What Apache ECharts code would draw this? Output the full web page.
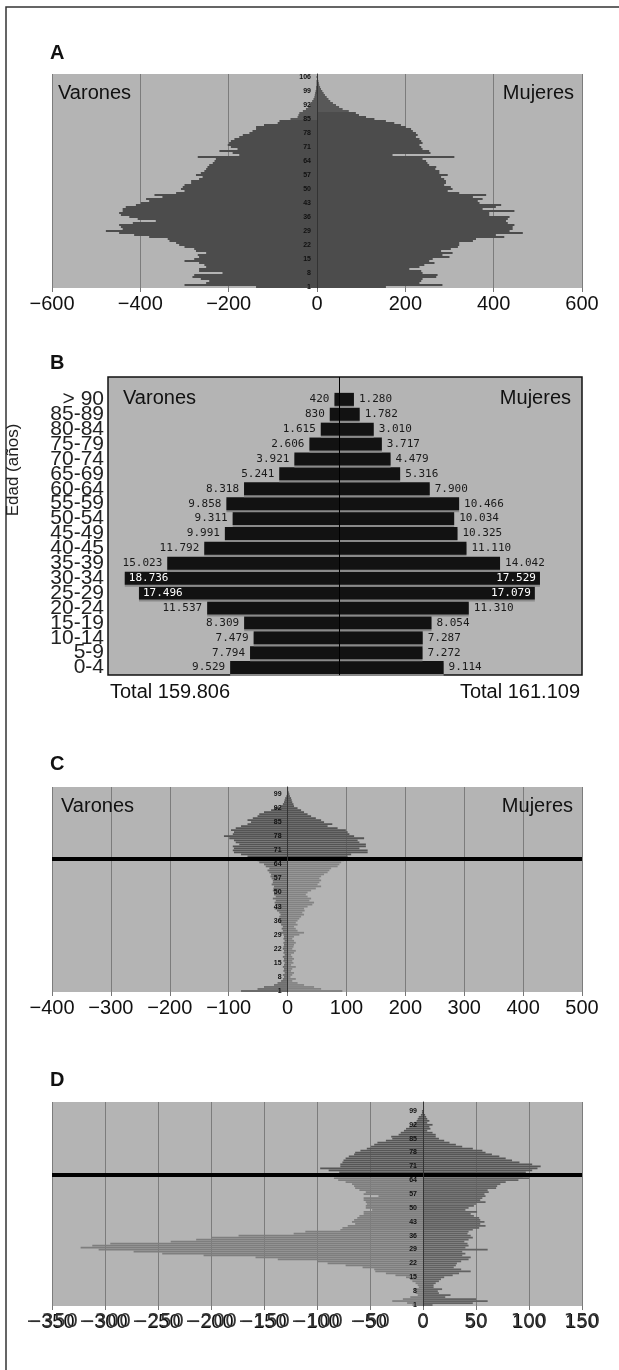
<!DOCTYPE html>
<html><head><meta charset="utf-8">
<script src="https://cdn.jsdelivr.net/npm/echarts/dist/echarts.min.js"></script>
<style>html,body{margin:0;padding:0;background:#fff}#c{width:619px;height:1370px}</style>
</head><body><div id="c"></div>
<script>
// ---------- Panel A (single years 1..107) ----------
const agesA = [1,2,3,4,5,6,7,8,9,10,11,12,13,14,15,16,17,18,19,20,21,22,23,24,25,26,27,28,29,30,31,32,33,34,35,36,37,38,39,40,41,42,43,44,45,46,47,48,49,50,51,52,53,54,55,56,57,58,59,60,61,62,63,64,65,66,67,68,69,70,71,72,73,74,75,76,77,78,79,80,81,82,83,84,85,86,87,88,89,90,91,92,93,94,95,96,97,98,99,100,101,102,103,104,105,106,107];
const menA = [138,300,251,244,263,282,278,214,267,267, 251,255,267,300,278,267,270,251,274,278, 300,312,319,334,338,380,414,448,478,440, 444,448,417,365,406,425,444,448,440,440, 433,410,399,380,387,350,368,319,300,308, 304,300,285,285,267,259,274,263,255,251, 248,244,236,232,229,270,176,191,221,180, 195,202,199,195,187,176,168,153,146,138, 138,120,89,85,60,44,42,40,32,25, 20,17,14,11,8,6,5,4,3,2, 2,1,1,1,0,1,0];
const womenA = [156,284,232,236,239,270,273,239,236,209, 232,243,266,254,262,300,284,307,281,303, 319,322,322,353,360,424,405,466,436,443, 443,447,432,428,432,436,390,390,447,375, 405,417,368,364,375,353,383,322,296,307, 303,288,292,292,288,281,296,277,277,268, 270,254,250,247,239,311,171,257,254,239, 236,232,239,236,232,224,228,224,217,213, 201,190,175,156,130,111,95,88,72,58, 50,43,36,30,26,22,18,15,12,9, 7,5,4,3,2,2,1];
const ticksA = [-600,-400,-200,0,200,400,600];

// ---------- Panel B (5-year groups) ----------
const groupsB = ['0-4','5-9','10-14','15-19','20-24','25-29','30-34','35-39','40-45','45-49','50-54','55-59','60-64','65-69','70-74','75-79','80-84','85-89','> 90'];
const menB = [9529,7794,7479,8309,11537,17496,18736,15023,11792,9991,9311,9858,8318,5241,3921,2606,1615,830,420];
const womenB = [9114,7272,7287,8054,11310,17079,17529,14042,11110,10325,10034,10466,7900,5316,4479,3717,3010,1782,1280];
const totalsB = ['Total 159.806','Total 161.109'];

// ---------- Panel C (single years 1..102) ----------
const agesC = [1,2,3,4,5,6,7,8,9,10,11,12,13,14,15,16,17,18,19,20,21,22,23,24,25,26,27,28,29,30,31,32,33,34,35,36,37,38,39,40,41,42,43,44,45,46,47,48,49,50,51,52,53,54,55,56,57,58,59,60,61,62,63,64,65,66,67,68,69,70,71,72,73,74,75,76,77,78,79,80,81,82,83,84,85,86,87,88,89,90,91,92,93,94,95,96,97,98,99,100,101,102];
const menC = [79,51,40,23,17,11,8,6,8,5, 7,6,8,6,5,7,6,8,5,7, 6,8,7,6,7,5,7,6,7,11, 8,10,8,11,12,14,11,14,12,14, 18,22,17,18,22,20,25,20,23,23, 25,24,23,27,25,25,27,29,28,31, 34,31,37,40,48,51,59,68,79,91, 93,91,93,82,88,91,99,108,93,91, 96,88,79,68,62,68,59,51,48,40, 28,23,11,8,6,5,4,2,1,1, 0,0];
const womenC = [93,57,45,28,17,8,14,5,8,11, 6,8,14,6,10,8,11,8,6,11, 14,8,10,11,14,11,8,11,20,28, 17,14,11,17,14,17,20,23,28,25, 29,28,34,42,45,37,40,34,31,34, 40,48,57,51,54,57,54,57,62,68, 71,74,85,88,91,96,96,102,108,136, 136,122,133,133,122,119,130,113,105,102, 99,85,68,76,62,57,48,40,34,28, 23,17,11,10,8,7,6,4,3,2, 1,1];
const ticksC = [-400,-300,-200,-100,0,100,200,300,400,500];

// ---------- Panel D (single years 1..103) ----------
const agesD = [1,2,3,4,5,6,7,8,9,10,11,12,13,14,15,16,17,18,19,20,21,22,23,24,25,26,27,28,29,30,31,32,33,34,35,36,37,38,39,40,41,42,43,44,45,46,47,48,49,50,51,52,53,54,55,56,57,58,59,60,61,62,63,64,65,66,67,68,69,70,71,72,73,74,75,76,77,78,79,80,81,82,83,84,85,86,87,88,89,90,91,92,93,94,95,96,97,98,99,100,101,102,103];
const menD = [10,15,29,19,12,5,7,7,8,4, 5,7,10,12,16,26,35,45,46,57, 73,90,100,137,158,207,246,273,306,323, 312,295,238,214,200,174,122,111,78,76, 71,64,67,65,62,60,56,56,48,54, 54,53,54,56,56,42,56,54,60,64, 65,67,73,80,84,82,82,79,89,97, 78,78,76,75,73,70,65,64,59,53, 49,46,43,35,29,30,23,21,18,16, 13,10,8,6,5,4,2,1,1,0, 0,0,0];
const womenD = [9,47,61,50,21,26,15,14,18,10, 10,12,15,17,20,28,34,45,36,29, 31,32,36,43,45,37,40,37,61,40, 43,42,39,43,47,45,42,43,47,53, 59,54,58,54,53,48,45,51,40,43, 48,50,59,54,56,59,58,62,61,69, 70,73,78,90,100,94,84,97,103,108, 111,103,91,84,78,72,65,59,56,47, 37,31,25,20,15,12,12,9,4,7, 6,9,4,6,4,3,2,1,1,1, 1,0,0];
const ticksD = [-350,-300,-250,-200,-150,-100,-50,0,50,100,150];

const cutAge = '67';

// ---------- helpers ----------
const BG = '#b4b4b4';
const FONT = 'Liberation Sans, Arial, sans-serif';
const GL = 52, GW = 530; // grid left / width for panels A, C, D
const fmtTick = v => (v < 0 ? '\u2212' : '') + Math.abs(v);
const fmtThou = v => String(Math.abs(v)).replace(/\B(?=(\d{3})+(?!\d))/g, '.');

function valAxis(gi, ticks, extra) {
  return Object.assign({
    type: 'value', gridIndex: gi, position: 'bottom',
    min: ticks[0], max: ticks[ticks.length - 1], interval: ticks[1] - ticks[0],
    axisLine: {show: false, onZero: false},
    axisTick: {show: true, length: 4, lineStyle: {color: '#777'}},
    splitLine: {show: true, lineStyle: {color: '#7c7c7c', width: 1}},
    axisLabel: {fontSize: 20, fontFamily: FONT, color: '#111', margin: 6, formatter: fmtTick,
                showMinLabel: true, showMaxLabel: true}
  }, extra || {});
}
// category age axis drawn on the zero line of the value axis
function ageAxis(gi, ages, ticks) {
  const lo = ticks[0], hi = ticks[ticks.length - 1];
  const zeroOffset = (0 - lo) / (hi - lo) * GW;
  return {
    type: 'category', gridIndex: gi, data: ages.map(String), position: 'left', offset: -zeroOffset,
    axisLine: {show: true, onZero: false, lineStyle: {color: '#333', width: 1}},
    axisTick: {show: false},
    splitLine: {show: false},
    z: 5,
    axisLabel: {interval: (i, v) => (Number(v) - 1) % 7 === 0, fontSize: 7, fontWeight: 'bold',
                color: '#111', margin: 6, fontFamily: FONT}
  };
}
function pyramid(gi, ages, men, women, colUp, colMenLow, colWomenLow, withLine) {
  const mk = (arr, sign, low) => arr.map((v, i) => ({
    value: sign * v,
    itemStyle: {color: colUp === null ? low : (ages[i] >= Number(cutAge) ? colUp : low)}
  }));
  const base = {type: 'bar', xAxisIndex: gi, yAxisIndex: gi, barGap: '-100%', barCategoryGap: '12%', silent: true};
  const s1 = Object.assign({}, base, {data: mk(men, -1, colMenLow)});
  const s2 = Object.assign({}, base, {data: mk(women, 1, colWomenLow)});
  if (withLine) {
    s2.markLine = {silent: true, symbol: ['none', 'none'], label: {show: false},
      lineStyle: {color: '#000', width: 4, type: 'solid'}, data: [{yAxis: cutAge}]};
  }
  return [s1, s2];
}

const gridBase = {show: true, backgroundColor: BG, borderWidth: 0, containLabel: false, outerBoundsMode: 'none'};

// Panel B series
const catsB = groupsB.concat(['']);
const menBData = menB.map(v => ({
  value: -v,
  label: v >= 17000 ? {position: 'insideLeft', color: '#fff', distance: 4} : {position: 'left', color: '#1a1a1a', distance: 5}
})).concat([null]);
const womenBData = womenB.map(v => ({
  value: v,
  label: v >= 17000 ? {position: 'insideRight', color: '#fff', distance: 4} : {position: 'right', color: '#1a1a1a', distance: 5}
})).concat([null]);
const barBStyle = {color: '#121212', shadowColor: '#8a8a8a', shadowOffsetY: 2, shadowBlur: 0};
const labelB = {show: true, fontFamily: 'DejaVu Sans Mono, monospace', fontSize: 11, formatter: p => fmtThou(p.value)};

const option = {
  animation: false,
  grid: [
    Object.assign({}, gridBase, {left: GL, width: GW, top: 74, height: 214}),
    Object.assign({}, gridBase, {left: 108, right: 37, top: 377, height: 298, borderColor: '#111', borderWidth: 1.5}),
    Object.assign({}, gridBase, {left: GL, width: GW, top: 787, height: 205}),
    Object.assign({}, gridBase, {left: GL, width: GW, top: 1102, height: 204})
  ],
  xAxis: [
    valAxis(0, ticksA),
    {type: 'value', gridIndex: 1, min: -20200, max: 21200, show: false, splitLine: {show: false}},
    valAxis(2, ticksC),
    valAxis(3, ticksD),
    valAxis(3, ticksD, {axisTick: {show: false}, splitLine: {show: false},
      axisLabel: {fontSize: 19, fontFamily: 'DejaVu Sans, sans-serif', color: '#333', margin: 7, formatter: fmtTick,
                  showMinLabel: true, showMaxLabel: true}})
  ],
  yAxis: [
    ageAxis(0, agesA, ticksA),
    {type: 'category', gridIndex: 1, data: catsB,
     axisLine: {show: false}, axisTick: {show: false}, splitLine: {show: false},
     axisLabel: {fontSize: 21, fontFamily: FONT, color: '#222', margin: 4, interval: 0}},
    ageAxis(2, agesC, ticksC),
    ageAxis(3, agesD, ticksD)
  ],
  series: [].concat(
    pyramid(0, agesA, menA, womenA, null, '#4c4c4c', '#4c4c4c', false),
    [
      {type: 'bar', xAxisIndex: 1, yAxisIndex: 1, data: menBData, barWidth: 13, barGap: '-100%',
       itemStyle: barBStyle, label: labelB, silent: true,
       markLine: {silent: true, symbol: ['none', 'none'], label: {show: false},
                  lineStyle: {color: '#000', width: 1, type: 'solid'}, data: [{xAxis: 0}]}},
      {type: 'bar', xAxisIndex: 1, yAxisIndex: 1, data: womenBData, barWidth: 13, barGap: '-100%',
       itemStyle: barBStyle, label: labelB, silent: true}
    ],
    pyramid(2, agesC, menC, womenC, '#545454', '#6a6a6a', '#838383', true),
    pyramid(3, agesD, menD, womenD, '#565656', '#7e7e7e', '#616161', true)
  ),
  graphic: [
    {type: 'rect', silent: true, shape: {x: 6, y: 7, width: 800, height: 1600}, style: {fill: 'none', stroke: '#333', lineWidth: 1.5}, z: -1},
    {type: 'text', style: {x: 50, y: 53, text: 'A', font: 'bold 20px ' + FONT, fill: '#111', textVerticalAlign: 'middle'}},
    {type: 'text', style: {x: 50, y: 363, text: 'B', font: 'bold 20px ' + FONT, fill: '#111', textVerticalAlign: 'middle'}},
    {type: 'text', style: {x: 50, y: 764, text: 'C', font: 'bold 20px ' + FONT, fill: '#111', textVerticalAlign: 'middle'}},
    {type: 'text', style: {x: 50, y: 1080, text: 'D', font: 'bold 20px ' + FONT, fill: '#111', textVerticalAlign: 'middle'}},
    {type: 'text', z: 100, style: {x: 58, y: 93, text: 'Varones', font: '20px ' + FONT, fill: '#111', textVerticalAlign: 'middle'}},
    {type: 'text', z: 100, style: {x: 574, y: 93, text: 'Mujeres', font: '20px ' + FONT, fill: '#111', textAlign: 'right', textVerticalAlign: 'middle'}},
    {type: 'text', z: 100, style: {x: 123, y: 398, text: 'Varones', font: '20px ' + FONT, fill: '#111', textVerticalAlign: 'middle'}},
    {type: 'text', z: 100, style: {x: 571, y: 398, text: 'Mujeres', font: '20px ' + FONT, fill: '#111', textAlign: 'right', textVerticalAlign: 'middle'}},
    {type: 'text', z: 100, style: {x: 61, y: 806, text: 'Varones', font: '20px ' + FONT, fill: '#111', textVerticalAlign: 'middle'}},
    {type: 'text', z: 100, style: {x: 573, y: 806, text: 'Mujeres', font: '20px ' + FONT, fill: '#111', textAlign: 'right', textVerticalAlign: 'middle'}},
    {type: 'text', style: {x: 110, y: 692, text: totalsB[0], font: '20px ' + FONT, fill: '#111', textVerticalAlign: 'middle'}},
    {type: 'text', style: {x: 580, y: 692, text: totalsB[1], font: '20px ' + FONT, fill: '#111', textAlign: 'right', textVerticalAlign: 'middle'}},
    {type: 'text', rotation: Math.PI / 2, x: 13, y: 470,
     style: {x: 0, y: 0, text: 'Edad (años)', font: '17px ' + FONT, fill: '#222', textAlign: 'center', textVerticalAlign: 'middle'}}
  ]
};

const chart = echarts.init(document.getElementById('c'), null, {renderer: 'canvas', width: 619, height: 1370});
chart.setOption(option);
</script>
</body></html>
